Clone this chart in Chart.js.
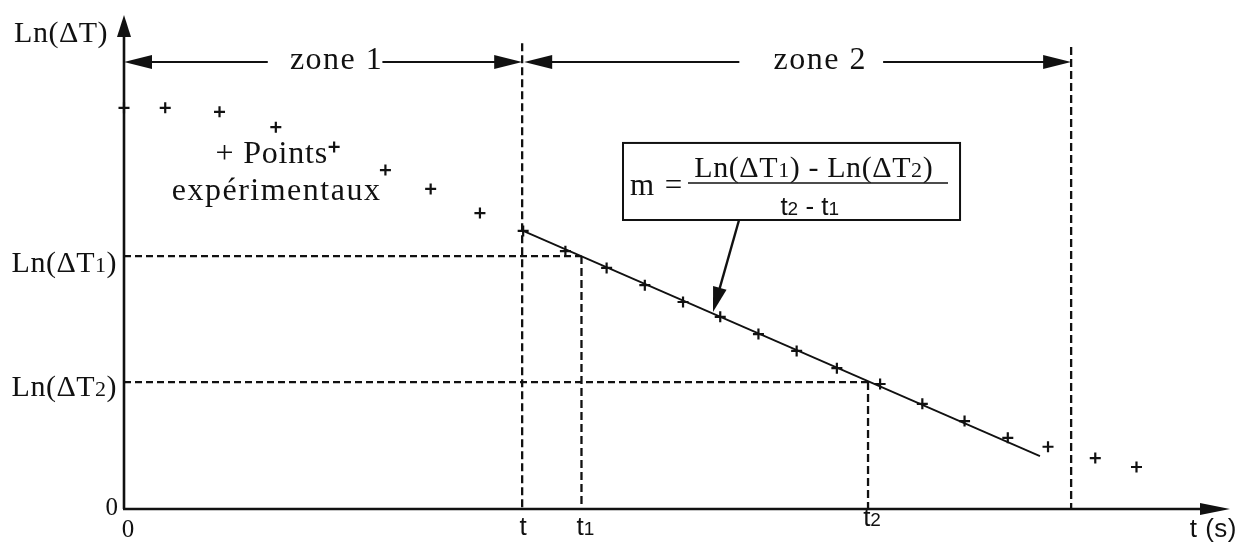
<!DOCTYPE html>
<html>
<head>
<meta charset="utf-8">
<script src="https://cdn.jsdelivr.net/npm/chart.js@4"></script>
<style>
  html, body { margin: 0; padding: 0; background: #fff; }
  canvas { display: block; }
</style>
</head>
<body>
<canvas id="cooling-chart" width="1244" height="542"></canvas>
<script>
// points expérimentaux : temps et Ln(ΔT)
const times = [0, 4.1, 9.5, 15.1, 20.9, 26.0, 30.5, 35.4, 39.7, 43.9, 48.0, 51.8, 55.6, 59.3, 63.1, 66.9, 70.9, 75.2, 79.4, 83.6, 87.9, 91.9, 96.6, 100.7];
const lnDeltaT = [8.12, 8.12, 8.04, 7.73, 7.33, 6.86, 6.48, 5.99, 5.63, 5.22, 4.88, 4.53, 4.19, 3.89, 3.54, 3.20, 2.85, 2.53, 2.13, 1.78, 1.44, 1.26, 1.03, 0.85];

// droite ajustée sur la zone 2
const fitTimes = [39.7, 91.1];
const fitValues = [5.63, 1.07];

// repères : t, t1, t2, fin de zone 2
const markerTimes = [39.6, 45.5, 74.0, 94.2];
const markerLabels = ['t', 't1', 't2', ''];
const lnLevels = [5.12, 2.57];

const ink = '#111';
const serif = '"Liberation Serif", "Times New Roman", serif';
const sans = '"Liberation Sans", Arial, sans-serif';

function arrowHead(ctx, x, y, angle, len, half) {
  ctx.save();
  ctx.translate(x, y);
  ctx.rotate(angle);
  ctx.beginPath();
  ctx.moveTo(0, 0);
  ctx.lineTo(-len, -half);
  ctx.lineTo(-len, half);
  ctx.closePath();
  ctx.fill();
  ctx.restore();
}

// texte en plusieurs morceaux : [texte, taille, police, espacement]
function richText(ctx, parts, x, y, align) {
  const setFont = p => {
    ctx.font = p[1] + 'px ' + p[2];
    ctx.letterSpacing = (p[3] || 0) + 'px';
  };
  let w = 0;
  parts.forEach(p => { setFont(p); w += ctx.measureText(p[0]).width; });
  let cx = align === 'right' ? x - w : align === 'center' ? x - w / 2 : x;
  ctx.textAlign = 'left';
  ctx.textBaseline = 'alphabetic';
  parts.forEach(p => {
    setFont(p);
    ctx.fillText(p[0], cx, y);
    cx += ctx.measureText(p[0]).width;
  });
  ctx.letterSpacing = '0px';
}

function lnLabel(sub, size, sp) {
  const parts = [['Ln(ΔT', size, serif, sp]];
  if (sub) parts.push([sub, Math.round(size * 0.72), serif, sp]);
  parts.push([')', size, serif, sp]);
  return parts;
}

function line(ctx, x1, y1, x2, y2) {
  ctx.beginPath();
  ctx.moveTo(x1, y1);
  ctx.lineTo(x2, y2);
  ctx.stroke();
}

const schema = {
  id: 'schema',
  beforeDatasetsDraw(chart) {
    const { ctx, chartArea: a } = chart;
    const X = v => chart.scales.x.getPixelForValue(v);
    const Y = v => chart.scales.y.getPixelForValue(v);
    const [tS, t1, t2, tE] = markerTimes;
    ctx.save();
    ctx.strokeStyle = ink;
    ctx.fillStyle = ink;
    ctx.lineWidth = 2.3;

    // pointillés horizontaux
    ctx.setLineDash([7, 4]);
    line(ctx, a.left, Y(lnLevels[0]), X(t1), Y(lnLevels[0]));
    line(ctx, a.left, Y(lnLevels[1]), X(t2), Y(lnLevels[1]));
    // pointillés verticaux
    ctx.setLineDash([8, 4]);
    line(ctx, X(t1), Y(lnLevels[0]), X(t1), a.bottom);
    line(ctx, X(t2), Y(lnLevels[1]), X(t2), a.bottom);
    line(ctx, X(tS), Y(9.43), X(tS), a.bottom);
    line(ctx, X(tE), Y(9.35), X(tE), a.bottom);
    ctx.setLineDash([]);

    // axes
    ctx.lineWidth = 2.6;
    line(ctx, a.left, a.bottom, a.left, a.top + 18);
    line(ctx, a.left - 1, a.bottom, a.right - 25, a.bottom);
    arrowHead(ctx, a.left, a.top, -Math.PI / 2, 22, 7);
    arrowHead(ctx, a.right, a.bottom, 0, 30, 6);
    ctx.restore();
  },
  afterDatasetsDraw(chart) {
    const { ctx, chartArea: a } = chart;
    const X = v => chart.scales.x.getPixelForValue(v);
    const Y = v => chart.scales.y.getPixelForValue(v);
    const [tS, t1, t2, tE] = markerTimes;
    ctx.save();
    ctx.strokeStyle = ink;
    ctx.fillStyle = ink;

    // flèches des zones
    const zy = Y(9.05);
    ctx.lineWidth = 2;
    line(ctx, a.left + 20, zy, X(14.3), zy);
    arrowHead(ctx, a.left, zy, Math.PI, 28, 7);
    line(ctx, X(25.7), zy, X(tS) - 20, zy);
    arrowHead(ctx, X(tS), zy, 0, 28, 7);
    line(ctx, X(tS) + 22, zy, X(61.2), zy);
    arrowHead(ctx, X(tS) + 2, zy, Math.PI, 28, 7);
    line(ctx, X(75.5), zy, X(tE) - 20, zy);
    arrowHead(ctx, X(tE), zy, 0, 28, 7);
    richText(ctx, [['zone 1', 32, serif, 1.5]], X(16.5), zy + 7, 'left');
    richText(ctx, [['zone 2', 32, serif, 1.5]], X(64.6), zy + 7, 'left');

    // étiquettes de l'axe vertical
    richText(ctx, lnLabel('', 30, 0.5), a.left - 16, a.top + 27, 'right');
    richText(ctx, lnLabel('1', 30, 0.5), a.left - 7, Y(lnLevels[0]) + 16, 'right');
    richText(ctx, lnLabel('2', 30, 0.5), a.left - 7, Y(lnLevels[1]) + 14, 'right');
    richText(ctx, [['0', 25, serif]], a.left - 6, a.bottom + 6, 'right');

    // étiquettes de l'axe horizontal
    richText(ctx, [['0', 25, serif]], a.left + 4, a.bottom + 28, 'center');
    markerTimes.forEach((t, i) => {
      if (!markerLabels[i]) return;
      const lbl = markerLabels[i];
      const parts = lbl.length > 1 ? [[lbl[0], 26, sans], [lbl.slice(1), 19, sans]] : [[lbl, 26, sans]];
      richText(ctx, parts, X(t) + (i ? 4 : 1), a.bottom + (i === 2 ? 17 : 26), 'center');
    });
    richText(ctx, [['t (s)', 26, sans, 0.5]], a.right + 7, a.bottom + 28, 'right');

    // légende des points
    richText(ctx, [['+ Points', 32, serif, 0.8]], X(9.1), Y(7.0), 'left');
    richText(ctx, [['expérimentaux', 32, serif, 1.5]], X(25.6), Y(6.26), 'right');

    // cadre de la formule de la pente
    ctx.lineWidth = 2;
    const bx1 = X(49.63), bx2 = X(83.15), by1 = Y(7.41), by2 = Y(5.85);
    ctx.strokeRect(bx1, by1, bx2 - bx1, by2 - by1);
    richText(ctx, [['m =', 31, serif, 1.5]], bx1 + 7, by1 + 52, 'left');
    const fx = X(68.6);
    richText(ctx, lnLabel('1', 30, 0.6).concat([[' - ', 30, serif, 0.6]], lnLabel('2', 30, 0.6)), fx, by1 + 34, 'center');
    ctx.lineWidth = 1.6;
    line(ctx, bx1 + 65, by1 + 40, bx2 - 12, by1 + 40);
    richText(ctx, [['t', 26, sans], ['2', 19, sans], [' - t', 26, sans], ['1', 19, sans]], fx - 4, by1 + 72, 'center');

    // flèche vers la droite
    ctx.lineWidth = 2.4;
    const px1 = X(61.17), py1 = by2, px2 = X(58.58), py2 = Y(3.99);
    const ang = Math.atan2(py2 - py1, px2 - px1);
    line(ctx, px1, py1, px2 - Math.cos(ang) * 20, py2 - Math.sin(ang) * 20);
    arrowHead(ctx, px2, py2, ang, 25, 7);
    ctx.restore();
  }
};

new Chart(document.getElementById('cooling-chart'), {
  type: 'scatter',
  data: {
    datasets: [
      {
        label: 'Points expérimentaux',
        data: times.map((t, i) => ({ x: t, y: lnDeltaT[i] })),
        pointStyle: 'cross',
        pointRadius: 5.5,
        borderColor: ink,
        borderWidth: 2.2,
        clip: false,
      },
      {
        label: 'Droite',
        data: fitTimes.map((t, i) => ({ x: t, y: fitValues[i] })),
        showLine: true,
        borderColor: ink,
        borderWidth: 1.7,
        pointRadius: 0,
        clip: false,
      },
    ],
  },
  options: {
    responsive: false,
    animation: false,
    events: [],
    layout: { padding: { left: 124, right: 14, top: 15, bottom: 33 } },
    plugins: { legend: { display: false }, tooltip: { enabled: false } },
    scales: {
      x: { type: 'linear', min: 0, max: 110, display: false },
      y: { type: 'linear', min: 0, max: 10, display: false },
    },
  },
  plugins: [schema],
});
</script>
</body>
</html>
